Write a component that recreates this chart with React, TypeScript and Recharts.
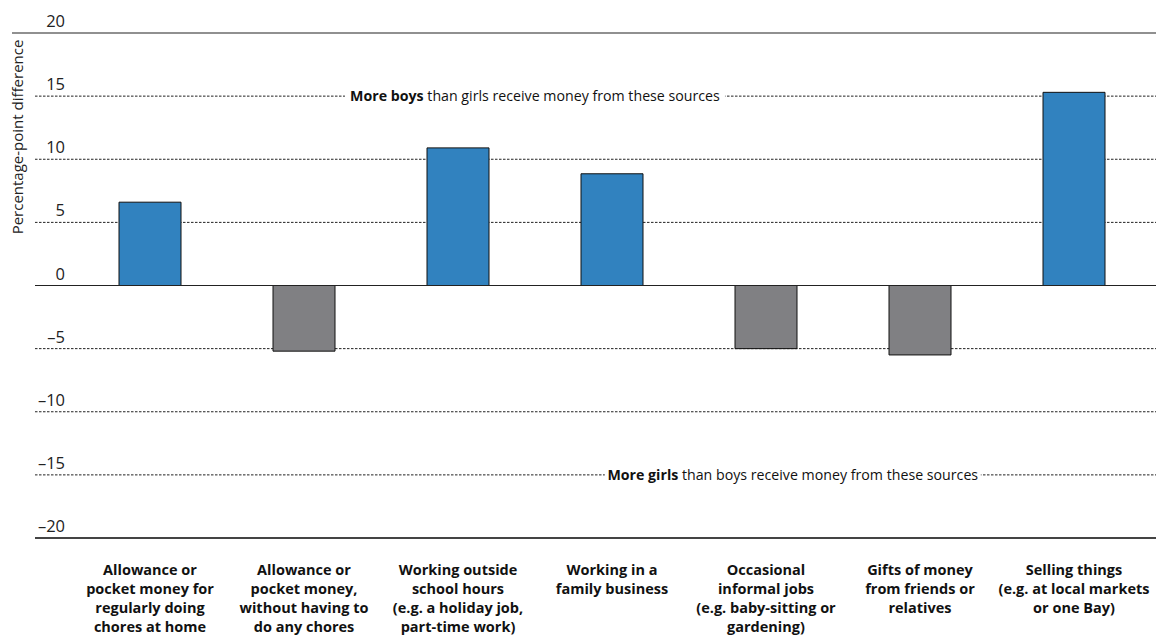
import React from 'react';
import { BarChart, Bar, XAxis, YAxis, CartesianGrid, ReferenceLine, Cell } from 'recharts';

const categories = [
  'Allowance or pocket money for regularly doing chores at home',
  'Allowance or pocket money, without having to do any chores',
  'Working outside school hours (e.g. a holiday job, part-time work)',
  'Working in a family business',
  'Occasional informal jobs (e.g. baby-sitting or gardening)',
  'Gifts of money from friends or relatives',
  'Selling things (e.g. at local markets or one Bay)',
];
const categoryLines = [
  ['Allowance or', 'pocket money for', 'regularly doing', 'chores at home'],
  ['Allowance or', 'pocket money,', 'without having to', 'do any chores'],
  ['Working outside', 'school hours', '(e.g. a holiday job,', 'part-time work)'],
  ['Working in a', 'family business'],
  ['Occasional', 'informal jobs', '(e.g. baby-sitting or', 'gardening)'],
  ['Gifts of money', 'from friends or', 'relatives'],
  ['Selling things', '(e.g. at local markets', 'or one Bay)'],
];
const values = [6.6, -5.2, 10.9, 8.85, -5.0, -5.5, 15.3];
const yTicks = [-20, -15, -10, -5, 0, 5, 10, 15, 20];
const yAxisTitle = 'Percentage-point difference';
const boysNote = { bold: 'More boys', rest: ' than girls receive money from these sources' };
const girlsNote = { bold: 'More girls', rest: ' than boys receive money from these sources' };

const data = categories.map((c, i) => ({ name: c, lines: categoryLines[i], value: values[i] }));

const FONT = '"Open Sans", Lato, sans-serif';
const BLUE = '#3182bf';
const GREY = '#808083';

const fmt = (v: number) => (v < 0 ? `\u2013${Math.abs(v)}` : `${v}`);

const YTick = (props: any) => {
  const { y, payload } = props;
  return (
    <text x={65} y={y - 6} textAnchor="end" fontFamily={FONT} fontSize={16.5} fill="#222">
      {fmt(payload.value)}
    </text>
  );
};

const XTick = (props: any) => {
  const { x, y, index } = props;
  const lines = categoryLines[index] || [];
  return (
    <g>
      {lines.map((l, i) => (
        <text key={i} x={x} y={y + 29 + i * 19} textAnchor="middle" fontFamily={FONT} fontSize={14.5} fontWeight={700} fill="#111">
          {l}
        </text>
      ))}
    </g>
  );
};

const makeNote = (note: { bold: string; rest: string }, frac: number, w: number) => (props: any) => {
  const vb = props.viewBox;
  const cx = vb.x + vb.width * frac;
  return (
    <g>
      <rect x={cx - w / 2} y={vb.y - 9} width={w} height={18} fill="#fff" />
      <text x={cx} y={vb.y + 5} textAnchor="middle" fontFamily={FONT} fontSize={14.2} fill="#111">
        <tspan fontWeight={700}>{note.bold}</tspan>
        <tspan>{note.rest}</tspan>
      </text>
    </g>
  );
};

const TopLine = (props: any) => {
  const { x1, x2, y1 } = props;
  return <line x1={x1 - 23} x2={x2} y1={y1} y2={y1} stroke="#222" strokeWidth={1.2} />;
};

export default function App() {
  return (
    <div style={{ width: 1156, height: 642 }}>
      <style>{`body{margin:0}`}</style>
      <BarChart width={1156} height={642} data={data} margin={{ top: 33, right: 0, bottom: 0, left: 0 }}>
        <CartesianGrid vertical={false} stroke="#222" strokeDasharray="2.5 1.5" horizontalValues={[-15, -10, -5, 5, 10, 15]} />
        <XAxis dataKey="name" axisLine={false} tickLine={false} interval={0} padding={{ left: 38, right: 5 }} tick={<XTick />} height={104} />
        <YAxis
          domain={[-20, 20]}
          ticks={yTicks}
          width={35}
          axisLine={false}
          tickLine={false}
          tick={<YTick />}
          label={(p: any) => (
            <text x={17} y={137} transform="rotate(-90 17 137)" textAnchor="middle" dominantBaseline="central" fontFamily={FONT} fontSize={15} fill="#222">
              {yAxisTitle}
            </text>
          )}
        />
        <ReferenceLine y={15} stroke="none" label={makeNote(boysNote, 0.446, 380)} />
        <ReferenceLine y={-15} stroke="none" label={makeNote(girlsNote, 0.676, 376)} />
        <Bar dataKey="value" barSize={62} stroke="#111" strokeWidth={1} isAnimationActive={false}>
          {data.map((d, i) => (
            <Cell key={i} fill={d.value >= 0 ? BLUE : GREY} />
          ))}
        </Bar>
        <ReferenceLine y={0} stroke="#222" strokeWidth={1.2} />
        <ReferenceLine y={-20} stroke="#444" strokeWidth={1.8} />
        <ReferenceLine y={20} ifOverflow="visible" stroke="#222" strokeWidth={1.2} shape={(p: any) => <TopLine {...p} />} />
      </BarChart>
    </div>
  );
}
